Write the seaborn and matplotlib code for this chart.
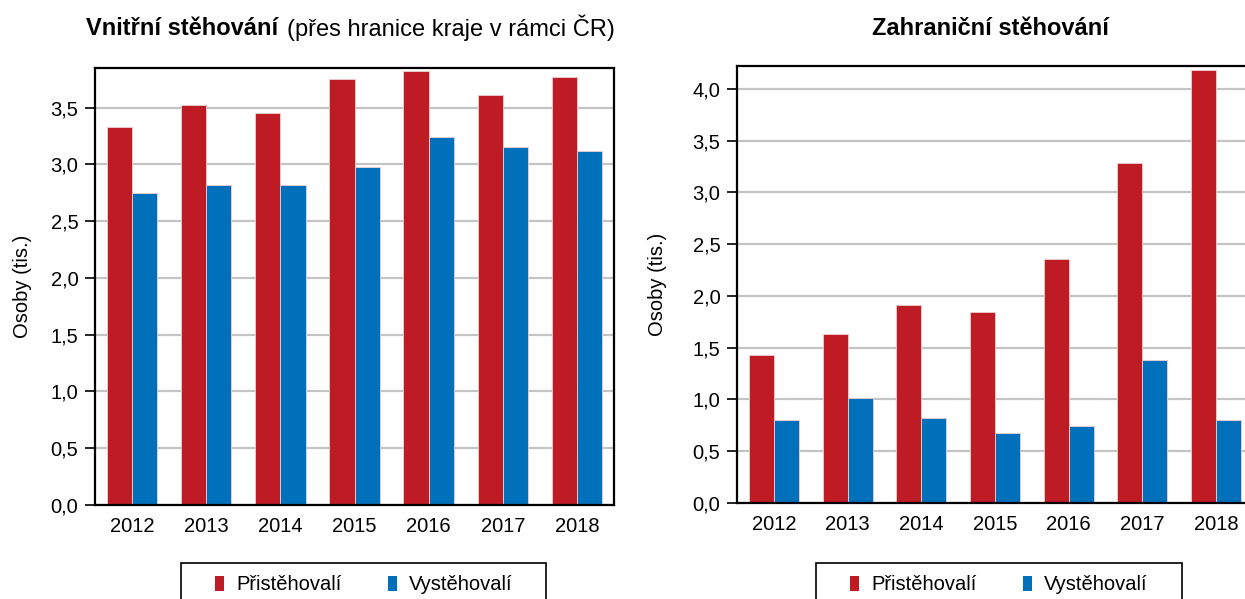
import pandas as pd
import numpy as np
import seaborn as sns
import matplotlib.pyplot as plt
from matplotlib.patches import Rectangle
from matplotlib.ticker import FuncFormatter, MultipleLocator

# ##############################################################################
# # data (tis. osob)
# ##############################################################################

years = ["2012", "2013", "2014", "2015", "2016", "2017", "2018"]
series = ["Přistěhovalí", "Vystěhovalí"]

vnitrni_prist = [3.33, 3.52, 3.45, 3.75, 3.82, 3.61, 3.77]
vnitrni_vyst = [2.75, 2.82, 2.82, 2.98, 3.24, 3.15, 3.12]

zahr_prist = [1.43, 1.63, 1.91, 1.84, 2.36, 3.28, 4.18]
zahr_vyst = [0.80, 1.01, 0.82, 0.68, 0.74, 1.38, 0.80]

colors = ["#BE1B24", "#0070BA"]

sns.set_style("white")
plt.rcParams['font.family'] = ['Liberation Sans', 'DejaVu Sans']
plt.rcParams['text.color'] = 'black'
plt.rcParams['axes.labelcolor'] = 'black'
plt.rcParams['xtick.color'] = 'black'
plt.rcParams['ytick.color'] = 'black'


def long_df(prist, vyst):
    return pd.DataFrame({
        "rok": years * 2,
        "typ": [series[0]] * len(years) + [series[1]] * len(years),
        "osoby": prist + vyst,
    })


def comma(v, pos):
    return f"{v:.1f}".replace(".", ",")


def make_panel(ax, df, ymax, box_left, box_right):
    sns.barplot(data=df, x="rok", y="osoby", hue="typ", palette=colors,
                width=0.68, edgecolor="#f0d0d0", linewidth=0.6, ax=ax,
                saturation=1, legend=True)
    handles, labels = ax.get_legend_handles_labels()
    ax.get_legend().remove()

    ax.set_xlim(-0.5, 6.5)
    ax.set_ylim(0, ymax)
    ax.yaxis.set_major_locator(MultipleLocator(0.5))
    ax.yaxis.set_major_formatter(FuncFormatter(comma))
    ax.grid(axis="y", color="#c4c4c4", linewidth=1.6)
    ax.set_axisbelow(True)

    # tick marks between the years
    ax.set_xticks(np.arange(-0.5, 7, 1), minor=True)
    ax.tick_params(axis="x", which="major", length=0, labelsize=14.5, pad=9)
    ax.tick_params(axis="x", which="minor", length=6, width=1.2, color="black", direction="out")
    ax.tick_params(axis="y", length=7, width=1.2, color="black", direction="out",
                   labelsize=14.5, left=True, pad=5)

    for s in ax.spines.values():
        s.set_color("black")
        s.set_linewidth(1.6)

    ax.set_xlabel("")
    ax.set_ylabel("Osoby (tis.)", fontsize=14.5)

    # legend below the chart, box drawn separately (wider than the content)
    cx = (box_left + box_right) / 2 / 1245
    leg = ax.legend(handles, labels, loc="center", bbox_to_anchor=(cx, 14 / 599),
                    bbox_transform=fig.transFigure, ncol=2, fontsize=14.5, frameon=False,
                    handlelength=0.45, handleheight=0.75, handletextpad=0.6,
                    columnspacing=2.3)
    for h in leg.legend_handles:
        h.set_edgecolor("none")
    fig.add_artist(Rectangle((box_left / 1245, -12 / 599), (box_right - box_left) / 1245, 48 / 599,
                             transform=fig.transFigure, fill=False, edgecolor="black",
                             linewidth=1.2))


fig = plt.figure(figsize=(12.45, 5.99), dpi=100)
ax1 = fig.add_axes([95 / 1245, 94 / 599, 519 / 1245, 437 / 599])
ax2 = fig.add_axes([737 / 1245, 96 / 599, 516 / 1245, 437 / 599])

make_panel(ax1, long_df(vnitrni_prist, vnitrni_vyst), 3.85, 181, 546)
make_panel(ax2, long_df(zahr_prist, zahr_vyst), 4.22, 816, 1182)

ax1.yaxis.set_label_coords(-0.121, 0.5)
ax2.yaxis.set_label_coords(-0.136, 0.5)

fig.text(278 / 1245, 0.953, "Vnitřní stěhování", ha="right", va="center",
         fontsize=17, fontweight="bold")
fig.text(287 / 1245, 0.953, "(přes hranice kraje v rámci ČR)", ha="left", va="center",
         fontsize=17)
fig.text(990 / 1245, 0.953, "Zahraniční stěhování", ha="center", va="center",
         fontsize=17, fontweight="bold")

plt.savefig("out.png", dpi=100)
plt.close()
